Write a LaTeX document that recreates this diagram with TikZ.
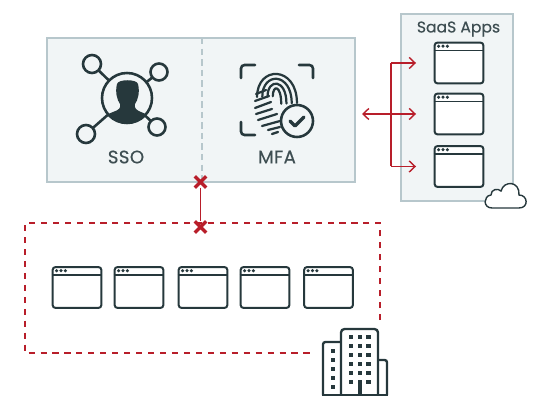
\documentclass[tikz,border=0pt]{standalone}
\usepackage{xcolor}
\usepackage{fontspec}
\setmainfont{Poppins}
\newfontfamily\tagfont{Poppins}[FakeBold=0.35,LetterSpace=2]
\newfontfamily\saasfont{Poppins}[FakeBold=0.35]
\usetikzlibrary{arrows.meta, calc, shapes.misc}
\definecolor{icondark}{RGB}{38, 56, 60}
\definecolor{labelgray}{RGB}{62, 78, 82}
\definecolor{panelfill}{RGB}{241, 245, 246}
\definecolor{panelline}{RGB}{183, 199, 204}
\definecolor{linkred}{RGB}{184, 30, 42}
\tikzset{
    panel/.style={draw=panelline, fill=panelfill, line width=1.7pt},
    appwin/.style={draw=icondark, fill=white, line width=1.7pt, rounded corners=2.5pt, inner sep=0,
        minimum width=49*0.85pt, minimum height=41*0.85pt},
    tag/.style={text=labelgray, font=\tagfont\fontsize{15.5}{15.5}\selectfont, inner sep=0},
    tagsmall/.style={text=labelgray, font=\saasfont\fontsize{13.3}{13.3}\selectfont, inner sep=0},
    link/.style={linkred, line width=1.2pt},
    openhead/.style={-{Straight Barb[length=5pt,width=9.5pt,line width=1.2pt]}},
    xmark/.style={cross out, draw=linkred, line width=2.8pt, minimum size=7pt, inner sep=0},
    ico/.style={icondark, line width=2.2pt},
    dot/.style={fill=icondark, inner sep=0, minimum size=3pt, circle},
    flat/.style={fill=icondark, inner sep=0, minimum size=3.7pt},
}
% window with a title bar, given by its centre
\newcommand{\appwindow}[3]{
    \node[appwin] (#1) at (#2,#3) {};
    \draw[icondark, line width=1.3pt] ($(#1.north west)+(0,9)$) -- ($(#1.north east)+(0,9)$);
    \foreach \k in {0,1,2}
        \node[dot] (#1d\k) at ($(#1.north west)+(5+\k*4.4,4.6)$) {};
}
\begin{document}
\begin{tikzpicture}[x=0.03cm, y=-0.03cm]
    \useasboundingbox (0,0) rectangle (538,403);

    % Main panel
    \path[panel] (47,38) rectangle (355,182);
    \coordinate (maintop) at (202,38);
    \coordinate (mainbot) at (202,182);
    \draw[panelline, line width=1.2pt, dash pattern=on 5.5pt off 3.5pt] (maintop) -- (mainbot);

    % SSO icon
    \foreach \nm/\x/\y/\r in {na/92/64/9, nb/159/72/8.5, nc/86/134/9, nd/157/127/8.5} {
        \draw[ico] (\x,\y) circle (\r);
        \coordinate (\nm) at (\x,\y);
    }
    \coordinate (ssohub) at (127,98);
    \foreach \nm/\rad in {na/7.65pt, nb/7.2pt, nc/7.65pt, nd/7.2pt} {
        \draw[ico] ($(\nm)!\rad!(ssohub)$) -- ($(ssohub)!21.2pt!(\nm)$);
    }
    \begin{scope}
        \clip (ssohub) circle (25);
        \fill[icondark] (117,84) .. controls (118,79) and (137,79) .. (138,84)
            .. controls (140,92) and (138,100) .. (135,104)
            .. controls (134,108) and (136,110) .. (141,112)
            .. controls (147,114) and (151,117) .. (153,125)
            -- (101,125) .. controls (103,117) and (107,114) .. (113,112)
            .. controls (119,110) and (121,108) .. (120,104)
            .. controls (117,100) and (115,92) .. (117,84) -- cycle;
    \end{scope}
    \draw[ico] (ssohub) circle (25);
    \node[tag] (sso) at (126,157) {SSO};

    % MFA icon
    \draw[ico, rounded corners=3pt, line cap=round] (241,78) -- (241,65) -- (255,65);
    \draw[ico, rounded corners=3pt, line cap=round] (299,65) -- (313,65) -- (313,78);
    \draw[ico, rounded corners=3pt, line cap=round] (241,122) -- (241,135) -- (255,135);
    \foreach \rr in {4,9,14,19} {
        \draw[ico, line width=1.9pt, line cap=round]
            (277-\rr*1.05,96+\rr*0.05) .. controls (277-\rr*1.05,90-\rr*1.3) and (277+\rr*1.05,90-\rr*1.3) .. (277+\rr*1.05,104-\rr*0.05);
    }
    \foreach \a/\b/\c/\d in {256/94/266/90, 255/101/269/96, 255/108/271/102, 256/114/272/109,
                             258/120/277/114, 262/126/280/121, 268/130/280/127, 272/134/278/132} {
        \draw[ico, line width=1.9pt, line cap=round] (\a,\b) -- (\c,\d);
    }
    \draw[ico, fill=panelfill] (297,121) circle (16);
    \draw[ico, line width=2.8pt, line cap=round, line join=round] (290,121) -- (295,126) -- (304,117);
    \node[tag] (mfa) at (277,157) {MFA};

    % SaaS panel
    \path[panel] (401,14) rectangle (513,201);
    \node[tagsmall] (saas) at (458.5,29) {SaaS Apps};
    \appwindow{appa}{459}{63}
    \appwindow{appb}{459}{114}
    \appwindow{appc}{459}{166.5}

    % Cloud
    \draw[icondark, fill=white, line width=1.2pt]
        (492,208) .. controls (483,208) and (483,196) .. (491,195)
        .. controls (491,189) and (498,188) .. (501,191)
        .. controls (504,180) and (520,181) .. (519,195)
        .. controls (528,195) and (529,208) .. (519,208) -- cycle;

    % Links to the apps
    \coordinate (fork) at (391,114);
    \coordinate (forka) at (391,63);
    \coordinate (forkc) at (391,166.5);
    \coordinate (mainedge) at (362,114);
    \draw[link] (forka) -- (forkc);
    \draw[link, {Straight Barb[length=5pt,width=9.5pt,line width=1.2pt]}-{Straight Barb[length=5pt,width=9.5pt,line width=1.2pt]}, shorten >=15pt] (mainedge) -- (appb.west);
    \draw[link, openhead, shorten >=15pt] (forka) -- (appa.west);
    \draw[link, openhead, shorten >=15pt] (forkc) -- (appc.west);

    % On-premises group
    \draw[linkred, line width=1.7pt, dash pattern=on 5.2pt off 5pt]
        (380,320) -- (380,223) -- (25,223) -- (25,353) -- (312,353);
    \appwindow{appd}{77}{287.5}
    \appwindow{appe}{139}{287.5}
    \appwindow{appf}{203}{287.5}
    \appwindow{appg}{265}{287.5}
    \appwindow{apph}{328.5}{287.5}

    % Blocked link
    \node[xmark] (blocka) at (200.5,182) {};
    \node[xmark] (blockb) at (200.5,227) {};
    \draw[link, line width=1.7pt] (blocka) -- (blockb);

    % Building
    \draw[ico, line width=2pt, rounded corners=2pt] (341,342) -- (323,342) -- (323,395);
    \draw[ico, line width=2pt, rounded corners=3pt] (341,395) -- (341,329) -- (378,329) -- (378,395);
    \draw[ico, line width=2pt, rounded corners=2pt] (378,360) -- (387,360) -- (387,395);
    \draw[ico] (322,395) -- (388,395);
    \foreach \y in {337,346,355,364,373,382} {
        \node[flat] at (351,\y) {};
        \node[flat] at (368.5,\y) {};
    }
    \foreach \y in {337,346,355,364,373} {
        \node[flat] at (359.7,\y) {};
    }
    \foreach \y in {351,360,369,378,387} {
        \node[flat] at (333,\y) {};
    }
    \fill[icondark] (358,380) rectangle (361.5,395);
\end{tikzpicture}
\end{document}
